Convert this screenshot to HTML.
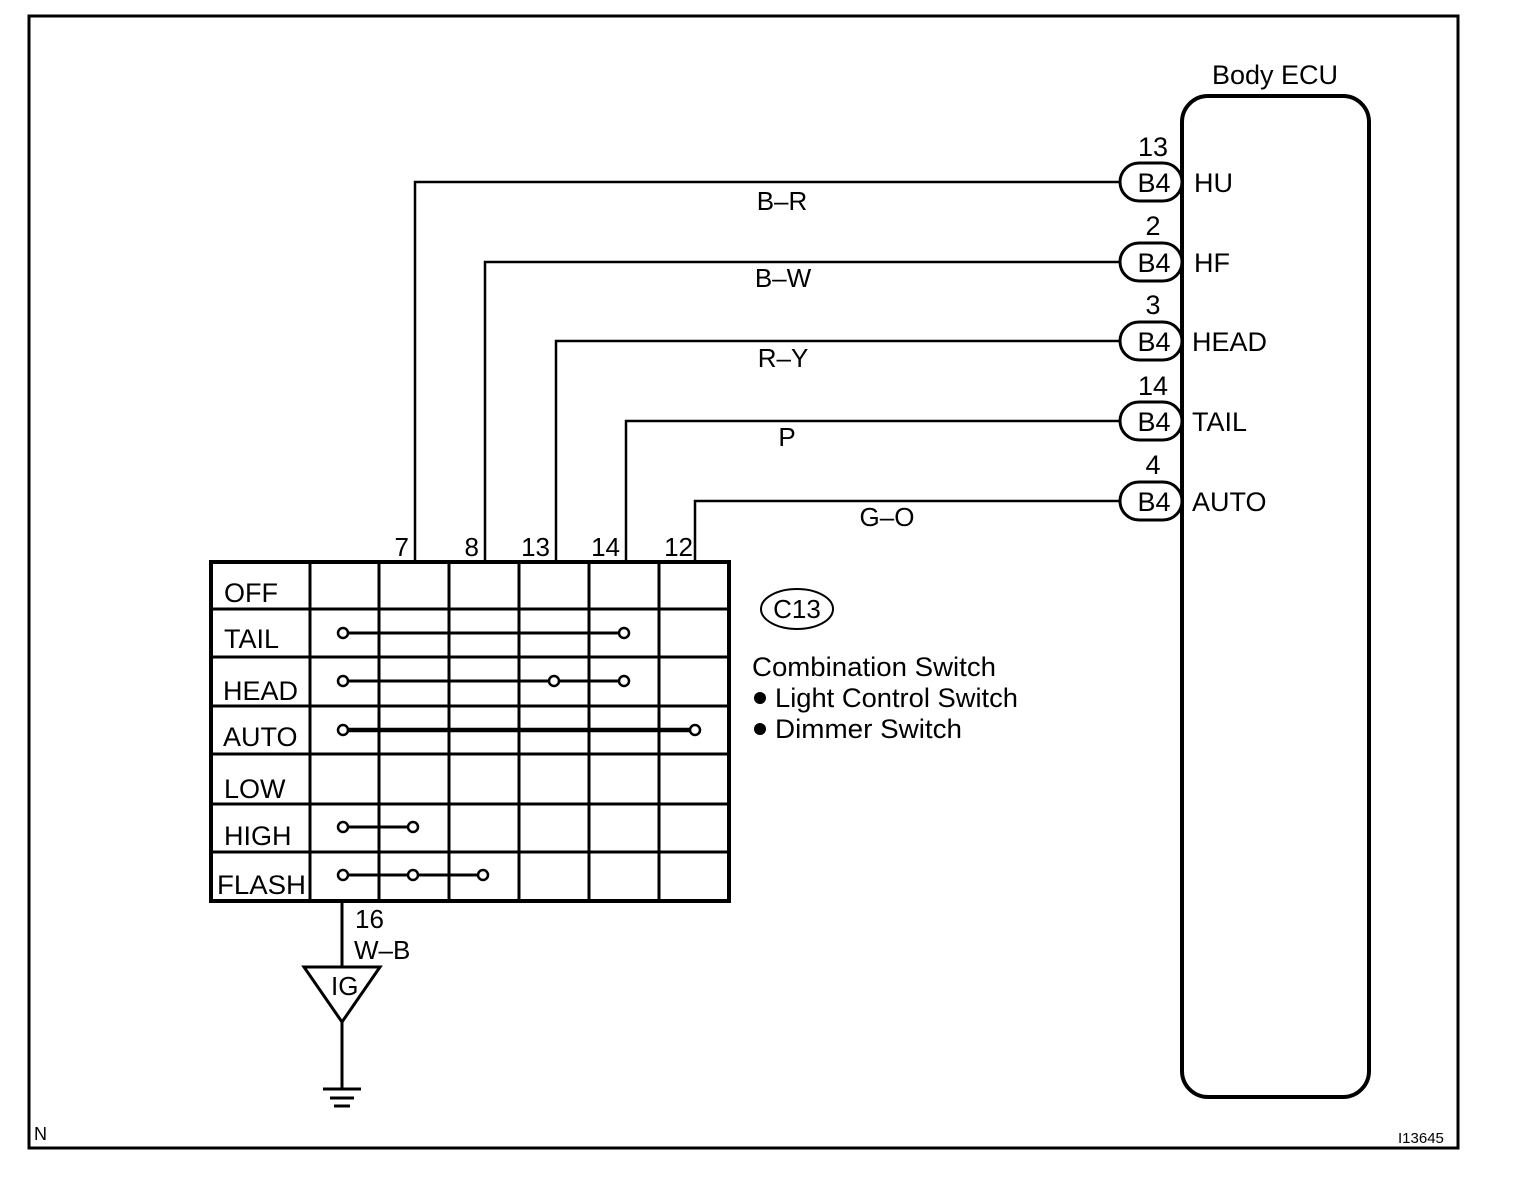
<!DOCTYPE html>
<html><head><style>html,body{margin:0;padding:0;background:#fff}</style></head>
<body>
<svg width="1520" height="1182" viewBox="0 0 1520 1182" xmlns="http://www.w3.org/2000/svg" font-family="Liberation Sans, sans-serif" fill="#000">
<rect x="0" y="0" width="1520" height="1182" fill="#fff"/>
<rect x="29" y="16" width="1429" height="1132" fill="none" stroke="#000" stroke-width="3"/>
<text x="34" y="1140" font-size="18">N</text>
<text x="1398" y="1143" font-size="15">I13645</text>

<!-- ECU -->
<text x="1275" y="84" font-size="27" text-anchor="middle">Body ECU</text>
<rect x="1182" y="96" width="187" height="1001" rx="26" fill="none" stroke="#000" stroke-width="4"/>

<g stroke="#000" stroke-width="2.5" fill="none">
<polyline points="1120,182 415,182 415,562"/>
<polyline points="1120,262 485,262 485,562"/>
<polyline points="1120,341 556,341 556,562"/>
<polyline points="1120,421 626,421 626,562"/>
<polyline points="1120,501 695,501 695,562"/>
</g>
<g stroke="#000" stroke-width="3" fill="#fff">
<rect x="1120" y="163" width="62" height="38" rx="19"/>
<rect x="1120" y="243" width="62" height="38" rx="19"/>
<rect x="1120" y="322" width="62" height="38" rx="19"/>
<rect x="1120" y="402" width="62" height="38" rx="19"/>
<rect x="1120" y="482" width="62" height="38" rx="19"/>
</g>
<g font-size="27" text-anchor="middle">
<text x="1154" y="192">B4</text><text x="1154" y="272">B4</text><text x="1154" y="351">B4</text><text x="1154" y="431">B4</text><text x="1154" y="511">B4</text>
<text x="1153" y="156">13</text><text x="1153" y="235">2</text><text x="1153" y="314">3</text><text x="1153" y="395">14</text><text x="1153" y="474">4</text>
</g>
<g font-size="27">
<text x="1194" y="192">HU</text><text x="1194" y="272">HF</text><text x="1192" y="351">HEAD</text><text x="1192" y="431">TAIL</text><text x="1192" y="511">AUTO</text>
</g>
<g font-size="26" text-anchor="middle">
<text x="782" y="210">B–R</text><text x="783" y="287">B–W</text><text x="783" y="367">R–Y</text><text x="787" y="446">P</text><text x="887" y="526">G–O</text>
</g>
<g font-size="26" text-anchor="end">
<text x="409" y="556">7</text><text x="479" y="556">8</text><text x="550" y="556">13</text><text x="620" y="556">14</text><text x="693" y="556">12</text>
</g>

<!-- grid -->
<rect x="211" y="562" width="518" height="339" fill="none" stroke="#000" stroke-width="4"/>
<g stroke="#000" stroke-width="3">
<line x1="310" y1="562" x2="310" y2="901"/>
<line x1="379" y1="562" x2="379" y2="901"/>
<line x1="449" y1="562" x2="449" y2="901"/>
<line x1="519" y1="562" x2="519" y2="901"/>
<line x1="589" y1="562" x2="589" y2="901"/>
<line x1="659" y1="562" x2="659" y2="901"/>
<line x1="211" y1="609" x2="729" y2="609"/>
<line x1="211" y1="657" x2="729" y2="657"/>
<line x1="211" y1="706" x2="729" y2="706"/>
<line x1="211" y1="754" x2="729" y2="754"/>
<line x1="211" y1="804" x2="729" y2="804"/>
<line x1="211" y1="852" x2="729" y2="852"/>
</g>
<g font-size="27">
<text x="224" y="602">OFF</text><text x="224" y="648">TAIL</text><text x="223" y="700">HEAD</text><text x="223" y="746">AUTO</text><text x="224" y="798">LOW</text><text x="224" y="845">HIGH</text><text x="217" y="894" textLength="89" lengthAdjust="spacingAndGlyphs">FLASH</text>
</g>
<g stroke="#000" stroke-width="3">
<line x1="343" y1="633" x2="624" y2="633"/>
<line x1="343" y1="681" x2="624" y2="681"/>
<line x1="343" y1="730" x2="695" y2="730" stroke-width="4.5"/>
<line x1="343" y1="827" x2="413" y2="827"/>
<line x1="343" y1="875" x2="483" y2="875"/>
</g>
<g stroke="#000" stroke-width="2.5" fill="#fff">
<circle cx="343" cy="633" r="5"/><circle cx="624" cy="633" r="5"/>
<circle cx="343" cy="681" r="5"/><circle cx="554" cy="681" r="5"/><circle cx="624" cy="681" r="5"/>
<circle cx="343" cy="730" r="5"/><circle cx="695" cy="730" r="5"/>
<circle cx="343" cy="827" r="5"/><circle cx="413" cy="827" r="5"/>
<circle cx="343" cy="875" r="5"/><circle cx="413" cy="875" r="5"/><circle cx="483" cy="875" r="5"/>
</g>

<!-- C13 -->
<ellipse cx="797" cy="609" rx="36" ry="20" fill="none" stroke="#000" stroke-width="2"/>
<text x="797" y="618" font-size="26" text-anchor="middle">C13</text>
<g font-size="27">
<text x="752" y="676" textLength="244" lengthAdjust="spacingAndGlyphs">Combination Switch</text>
<text x="775" y="707" textLength="243" lengthAdjust="spacingAndGlyphs">Light Control Switch</text>
<text x="775" y="738" textLength="187" lengthAdjust="spacingAndGlyphs">Dimmer Switch</text>
</g>
<circle cx="760" cy="698" r="6"/><circle cx="760" cy="729" r="6"/>

<!-- ground -->
<g stroke="#000" stroke-width="3" fill="none">
<line x1="342" y1="901" x2="342" y2="967"/>
<polygon points="304,967 380,967 342,1022"/>
<line x1="342" y1="1022" x2="342" y2="1089"/>
<line x1="323" y1="1089" x2="361" y2="1089"/>
<line x1="330" y1="1098" x2="354" y2="1098"/>
<line x1="334" y1="1106" x2="350" y2="1106"/>
</g>
<text x="331" y="995" font-size="26">IG</text>
<text x="355" y="928" font-size="26">16</text>
<text x="354" y="959" font-size="26">W–B</text>
</svg>
</body></html>
